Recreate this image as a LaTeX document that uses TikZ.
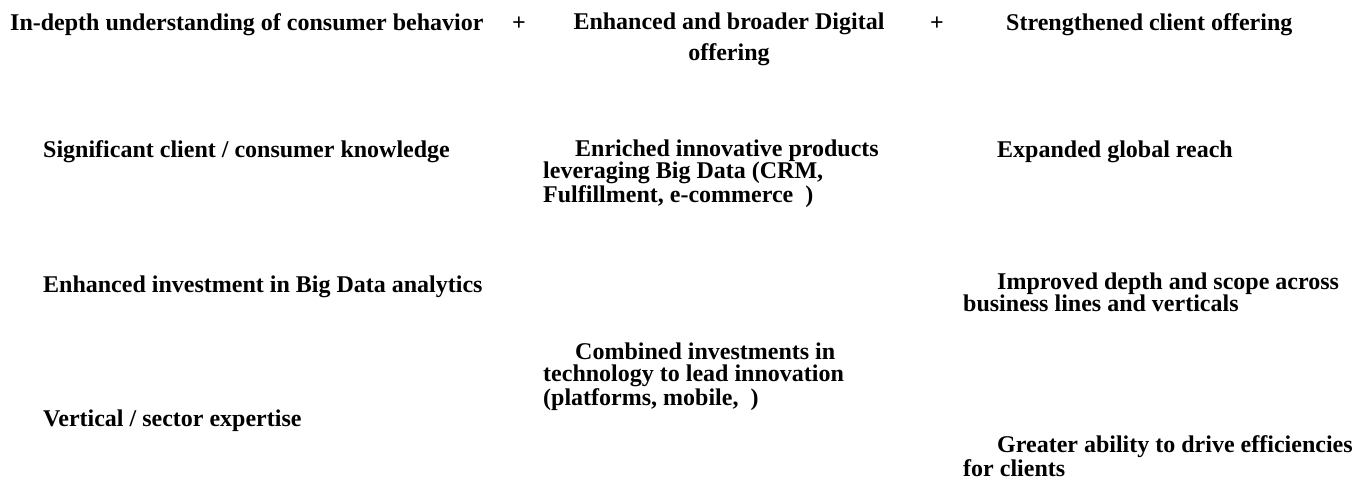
\documentclass[tikz,border=0pt]{standalone}
\usepackage{fontspec}
\setmainfont{Liberation Serif}
\usepackage{tikz}

\tikzset{
    label/.style={anchor=base west, inner sep=0pt, align=left,
        font=\fontsize{24}{22}\selectfont\bfseries},
    plus/.style={anchor=base, inner sep=0pt,
        font=\fontsize{24}{22}\selectfont\bfseries}
}

\begin{document}
\begin{tikzpicture}[x=1pt, y=-1pt]
    \useasboundingbox (0,0) rectangle (1355,487);

    % Header row (base of a wrapped node = its last line)
    \node[label] (consumer) at (10,31) {In-depth understanding of consumer behavior};
    \node[plus] (plusa) at (519,31) {+};
    \node[label, anchor=base, align=center] (digital) at (729,60) {Enhanced and broader Digital\\[7pt]offering};
    \node[plus] (plusb) at (937,31) {+};
    \node[label] (client) at (1006,31) {Strengthened client offering};

    % Left column
    \node[label] (knowledge) at (43,157) {Significant client / consumer knowledge};
    \node[label] (analytics) at (43,292) {Enhanced investment in Big Data analytics};
    \node[label] (expertise) at (43,426) {Vertical / sector expertise};

    % Middle column
    \node[label] (products) at (543,202) {\hspace*{32pt}Enriched innovative products\\leveraging Big Data (CRM,\\Fulfillment, e-commerce\ \ )};
    \node[label] (technology) at (543,405) {\hspace*{32pt}Combined investments in\\technology to lead innovation\\(platforms, mobile,\ \ )};

    % Right column
    \node[label] (reach) at (997,157) {Expanded global reach};
    \node[label] (scope) at (963,311) {\hspace*{34pt}Improved depth and scope across\\business lines and verticals};
    \node[label] (efficiency) at (963,476) {\hspace*{34pt}Greater ability to drive efficiencies\\for clients};
\end{tikzpicture}
\end{document}
